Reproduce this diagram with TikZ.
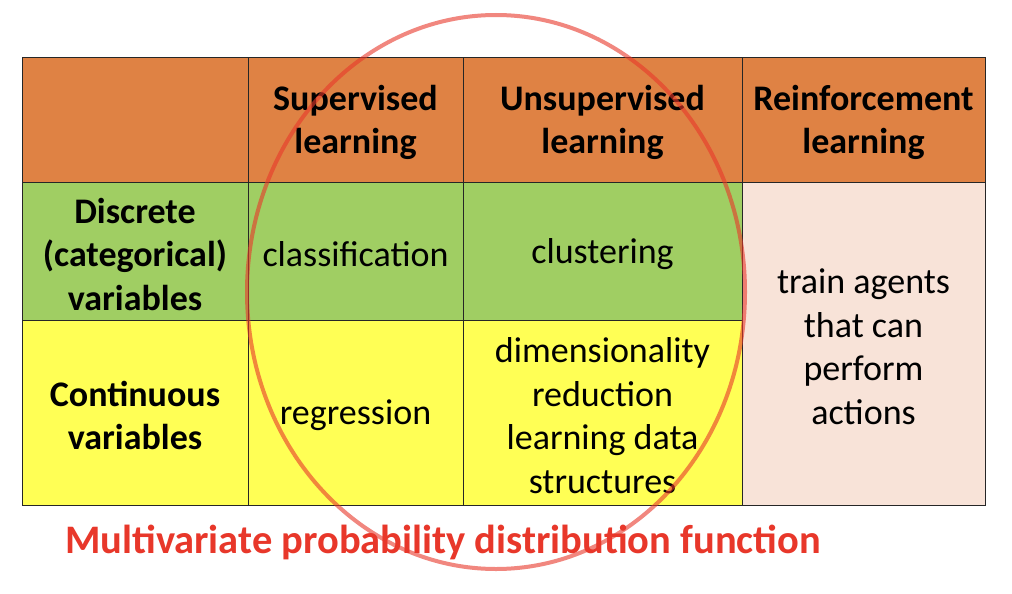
\documentclass[tikz,border=0pt]{standalone}
\usepackage{fontspec}
\setmainfont{Carlito}
\definecolor{hdr}{HTML}{DF8244}
\definecolor{grn}{HTML}{A0CE63}
\definecolor{ylw}{HTML}{FFFF55}
\definecolor{pnk}{HTML}{F8E3D8}
\definecolor{redtxt}{HTML}{E8372A}
\tikzset{
  cell/.style={draw=black!85, line width=0.8pt, inner sep=0pt},
  txt/.style={inner sep=0pt, align=center, font=\fontsize{36}{43.5}\selectfont},
  btxt/.style={txt, font=\fontsize{36}{43.5}\selectfont\bfseries},
}
\begin{document}
\begin{tikzpicture}[x=1pt,y=-1pt]
\useasboundingbox[fill=white] (0,0) rectangle (1012,594);
% columns 22,248,463,742,985 ; rows 57,182,320,505
\node[cell, fill=hdr, minimum width=226pt, minimum height=125pt] (h0) at (135,119.5) {};
\node[cell, fill=hdr, minimum width=215pt, minimum height=125pt] (h1) at (355.5,119.5) {};
\node[cell, fill=hdr, minimum width=279pt, minimum height=125pt] (h2) at (602.5,119.5) {};
\node[cell, fill=hdr, minimum width=243pt, minimum height=125pt] (h3) at (863.5,119.5) {};
\node[cell, fill=grn, minimum width=226pt, minimum height=138pt] (r1) at (135,251) {};
\node[cell, fill=grn, minimum width=215pt, minimum height=138pt] (c11) at (355.5,251) {};
\node[cell, fill=grn, minimum width=279pt, minimum height=138pt] (c12) at (602.5,251) {};
\node[cell, fill=ylw, minimum width=226pt, minimum height=185pt] (r2) at (135,412.5) {};
\node[cell, fill=ylw, minimum width=215pt, minimum height=185pt] (c21) at (355.5,412.5) {};
\node[cell, fill=ylw, minimum width=279pt, minimum height=185pt] (c22) at (602.5,412.5) {};
\node[cell, fill=pnk, minimum width=243pt, minimum height=323pt] (c3) at (863.5,343.5) {};
\node[btxt] (th1) at ([yshift=-3pt]h1.center) {Supervised\\learning};
\node[btxt] (th2) at ([yshift=-3pt]h2.center) {Unsupervised\\learning};
\node[btxt] (th3) at ([yshift=-3pt]h3.center) {Reinforcement\\learning};
\node[btxt] (tr1) at ([yshift=-3pt]r1.center) {Discrete\\(categorical)\\variables};
\node[txt] (t11) at ([yshift=-3pt]c11.center) {classification};
\node[txt] (t12) at ([yshift=-3pt]c12.center) {clustering};
\node[btxt] (tr2) at ([yshift=-3pt]r2.center) {Continuous\\variables};
\node[txt] (t21) at ([yshift=-3pt]c21.center) {regression};
\node[txt] (t22) at ([yshift=-3pt]c22.center) {dimensionality\\reduction\\learning data\\structures};
\node[txt] (t3) at ([yshift=-3pt]c3.center) {train agents\\that can\\perform\\actions};
\draw[redtxt, opacity=0.6, line width=4pt] (496,292) ellipse [x radius=249pt, y radius=277pt];
\node[anchor=base west, inner sep=0pt, text=redtxt, font=\fontsize{40.5}{48}\selectfont\bfseries] (lbl) at (65,553) {Multivariate probability distribution function};
\end{tikzpicture}
\end{document}
